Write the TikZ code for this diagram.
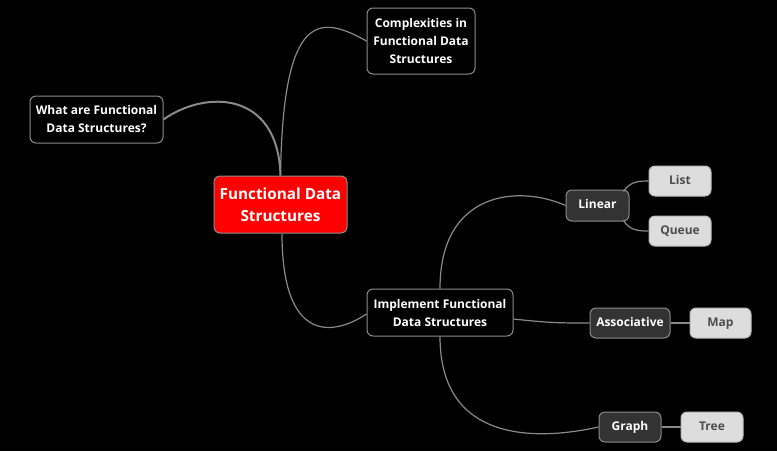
\documentclass[tikz,border=0pt]{standalone}
\usepackage{fontspec}
\setmainfont{Open Sans}
\usetikzlibrary{calc}
\definecolor{edgegray}{HTML}{8A8A8A}
\definecolor{boxborder}{HTML}{8C8C8C}
\definecolor{darkfill}{HTML}{333333}
\definecolor{lightfill}{HTML}{DDDDDD}
\definecolor{lighttext}{HTML}{4D4D4D}
\tikzset{
  base/.style={rounded corners=6pt, draw=boxborder, line width=1pt, inner sep=0pt, align=center, font=\fontsize{12}{18}\selectfont\bfseries},
  rootbox/.style={base, fill=red, text=white, minimum width=133pt, minimum height=57pt, font=\fontsize{15.3}{22}\selectfont\bfseries},
  topicbox/.style={base, fill=black, text=white},
  subbox/.style={base, fill=darkfill, text=white, minimum height=31pt, text height=9pt, text depth=3pt},
  leafbox/.style={base, fill=lightfill, text=lighttext, draw=lightfill!60!gray, minimum height=30pt, text height=9pt, text depth=3pt},
  edge/.style={draw=edgegray, line width=1.2pt},
  thickedge/.style={draw=edgegray, line width=2pt}
}
\begin{document}
\begin{tikzpicture}[x=1pt,y=-1pt]
\fill[black] (0,0) rectangle (777,451);
\useasboundingbox (0,0) rectangle (777,451);

\node[rootbox] (main) at (280.5,204.5) {Functional Data\\Structures};
\node[topicbox, minimum width=133pt, minimum height=47pt] (what) at (96.5,119.5) {What are Functional\\Data Structures?};
\node[topicbox, minimum width=108pt, minimum height=66pt] (cx) at (421,41) {Complexities in\\Functional Data\\Structures};
\node[topicbox, minimum width=146pt, minimum height=47pt] (imp) at (440,312.5) {Implement Functional\\Data Structures};

\node[subbox, minimum width=63pt] (lin) at (597.5,205.5) {Linear};
\node[subbox, minimum width=80pt, minimum height=30pt] (assoc) at (630,323) {Associative};
\node[subbox, minimum width=62pt, minimum height=30pt] (graph) at (630,427) {Graph};

\node[leafbox, minimum width=62pt] (list) at (680,181) {List};
\node[leafbox, minimum width=62pt] (queue) at (680,231) {Queue};
\node[leafbox, minimum width=61pt] (map) at (720.5,323) {Map};
\node[leafbox, minimum width=62pt] (tree) at (712,427) {Tree};

\path[thickedge] (main.north) .. controls (278,90) and (205,90) .. (what.east);
\path[edge] (main.north) .. controls (283,10) and (320,15) .. (cx.west);
\path[edge] ($(main.south)+(1.5,0)$) .. controls (282,340) and (330,338) .. ($(imp.west)+(0,1.5)$);
\path[edge] (imp.north) .. controls (440,190) and (520,185) .. (lin.west);
\path[edge] ($(imp.east)+(0,6.5)$) .. controls (550,323) and (560,323) .. (assoc.west);
\path[edge] (imp.south) .. controls (440,445) and (540,440) .. (graph.west);
\path[edge] ($(lin.east)+(-6,-14)$) .. controls (630,181) and (640,181) .. (list.west);
\path[edge] ($(lin.east)+(-6,15)$) .. controls (630,231) and (640,231) .. (queue.west);
\path[edge] (assoc.east) -- (map.west);
\path[edge] (graph.east) -- (tree.west);
\end{tikzpicture}
\end{document}
